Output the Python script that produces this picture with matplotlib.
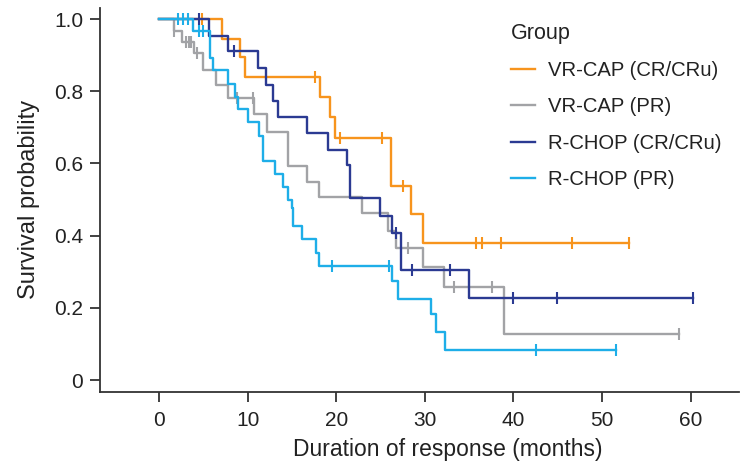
import numpy as np
import matplotlib
matplotlib.use('Agg')
import matplotlib.pyplot as plt

plt.rcParams['font.family'] = ['Liberation Sans', 'DejaVu Sans']

# -------- data (months, survival) --------
# VR-CAP (CR/CRu)
vr_cr_t = [0, 7.07, 9.14, 9.70, 18.17, 19.3, 19.86, 26.18, 28.4, 29.83]
vr_cr_s = [1.0, 0.946, 0.894, 0.840, 0.785, 0.728, 0.670, 0.538, 0.46, 0.381]
vr_cr_cens = [4.9, 17.6, 20.4, 25.2, 27.5, 35.8, 36.5, 38.6, 46.6, 53.0]

# VR-CAP (PR)
vr_pr_t = [0, 1.69, 2.63, 3.99, 5.0, 6.39, 7.82, 10.67, 12.15, 14.59, 16.67,
           18.05, 22.9, 25.88, 26.7, 29.83, 32.2, 38.97]
vr_pr_s = [1.0, 0.968, 0.935, 0.907, 0.859, 0.817, 0.780, 0.736, 0.686, 0.594,
           0.550, 0.507, 0.462, 0.412, 0.365, 0.312, 0.259, 0.128]
vr_pr_cens = [1.69, 3.05, 3.35, 3.65, 4.25, 8.84, 10.64, 28.1, 33.3, 37.6, 58.7]

# R-CHOP (CR/CRu)
rc_cr_t = [0, 5.68, 7.75, 11.13, 12.07, 12.83, 13.46, 16.67, 19.1, 21.18, 21.55,
           24.94, 26.33, 27.31, 34.98]
rc_cr_s = [1.0, 0.954, 0.912, 0.863, 0.817, 0.774, 0.728, 0.683, 0.637, 0.596,
           0.503, 0.455, 0.408, 0.305, 0.228]
rc_cr_cens = [4.55, 8.46, 26.7, 28.6, 32.8, 39.9, 44.9, 60.3]

# R-CHOP (PR)
rc_pr_t = [0, 3.87, 5.75, 6.13, 7.82, 8.6, 8.9, 10.0, 11.3, 11.77, 13.09, 14.03,
           14.52, 14.97, 15.16, 16.1, 17.68, 18.09, 26.26, 26.93, 30.69, 31.26, 32.27]
rc_pr_s = [1.0, 0.968, 0.891, 0.859, 0.820, 0.785, 0.752, 0.714, 0.675, 0.607,
           0.572, 0.536, 0.50, 0.476, 0.427, 0.39, 0.353, 0.316, 0.274, 0.224,
           0.182, 0.134, 0.083]
rc_pr_cens = [2.1, 2.67, 3.24, 4.51, 5.0, 19.56, 26.0, 42.5, 51.6]

labels = ['VR-CAP (CR/CRu)', 'VR-CAP (PR)', 'R-CHOP (CR/CRu)', 'R-CHOP (PR)']
colors = ['#F7941D', '#A2A3A6', '#2B3A92', '#1EAEE8']

groups = [
    (vr_cr_t, vr_cr_s, vr_cr_cens),
    (vr_pr_t, vr_pr_s, vr_pr_cens),
    (rc_cr_t, rc_cr_s, rc_cr_cens),
    (rc_pr_t, rc_pr_s, rc_pr_cens),
]

# -------- figure --------
fig = plt.figure(figsize=(7.53, 4.73), dpi=100)
ax = fig.add_axes([0.1328, 0.1719, 0.848, 0.8108])

draw_order = [0, 1, 3, 2]
handles = [None] * 4
for i in draw_order:
    t, s, cens = groups[i]
    t = np.asarray(t)
    s = np.asarray(s)
    end = max(cens[-1], t[-1])
    tt = np.append(t, end)
    ss = np.append(s, s[-1])
    h, = ax.step(tt, ss, where='post', color=colors[i], lw=1.7, zorder=2 + i)
    handles[i] = h
    # censor marks sit on the curve
    idx = np.searchsorted(t, cens, side='right') - 1
    ax.plot(cens, s[idx], linestyle='none', marker='|', markersize=8,
            markeredgewidth=1.5, color=colors[i], zorder=2 + i)

ax.set_xlim(-6.66, 65.4)
ax.set_ylim(-0.032, 1.03)
ax.set_xticks([0, 10, 20, 30, 40, 50, 60])
ax.set_yticks([0, 0.2, 0.4, 0.6, 0.8, 1.0])
ax.set_yticklabels(['0', '0.2', '0.4', '0.6', '0.8', '1.0'])

for side in ['top', 'right']:
    ax.spines[side].set_visible(False)
for side in ['left', 'bottom']:
    ax.spines[side].set_color('#333333')
    ax.spines[side].set_linewidth(1.3)

ax.tick_params(axis='both', direction='out', length=7, width=1.3,
               color='#333333', labelsize=15, labelcolor='#222222')
ax.tick_params(axis='y', pad=5)
ax.tick_params(axis='x', pad=7)

ax.set_xlabel('Duration of response (months)', fontsize=16.5, color='#222222')
ax.xaxis.set_label_coords(0.545, -0.122)
ax.set_ylabel('Survival probability', fontsize=17, color='#222222', labelpad=10)

leg = ax.legend(handles, labels, title='Group', loc='upper left',
                bbox_to_anchor=(511 / 753, 1 - 23 / 473), bbox_transform=fig.transFigure,
                frameon=False, fontsize=14.6, title_fontsize=15.5, alignment='left',
                handlelength=1.2, handletextpad=0.64, labelspacing=0.85,
                borderpad=0, borderaxespad=0)
for txt in leg.get_texts():
    txt.set_color('#222222')
leg.get_title().set_color('#222222')

fig.savefig('out.png', dpi=100)
